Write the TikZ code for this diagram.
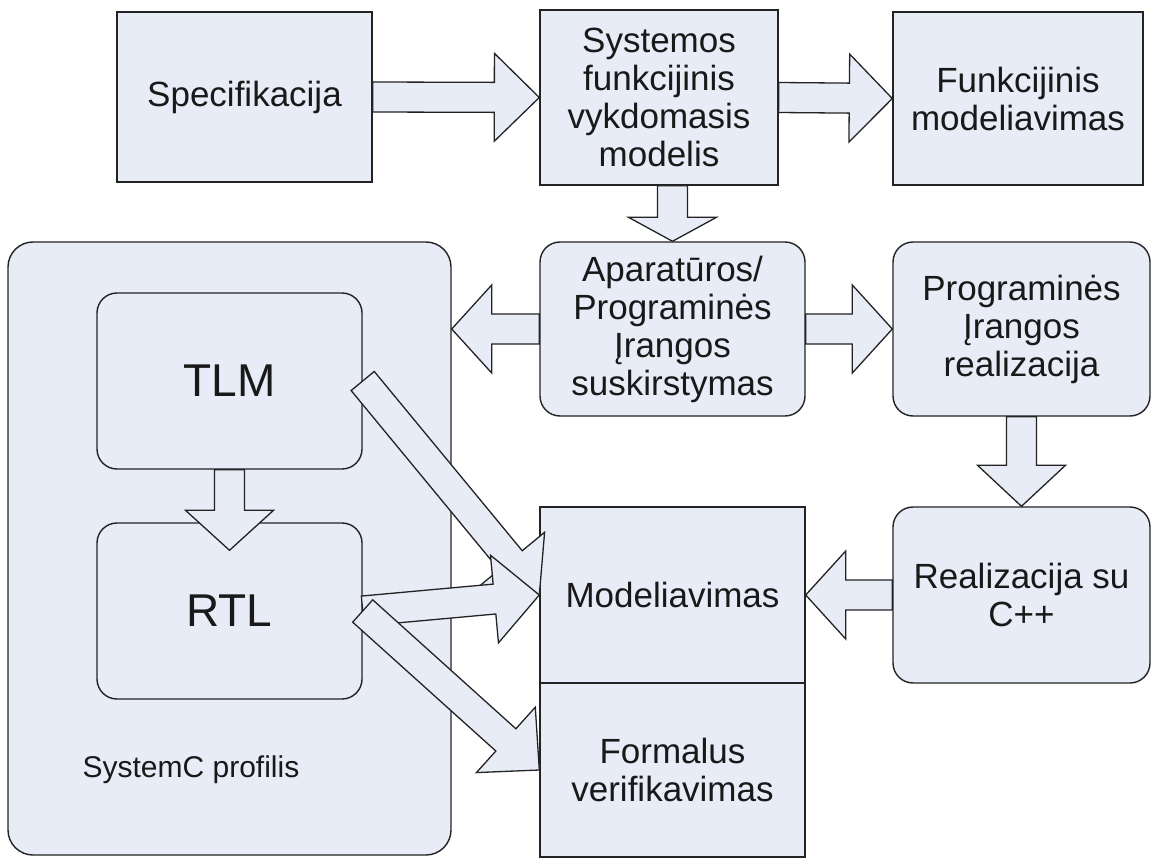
\documentclass[tikz,border=0pt]{standalone}
\usepackage{fontspec}
\setmainfont{Liberation Sans}
\usetikzlibrary{calc}

\definecolor{boxfill}{RGB}{232,236,246}
\definecolor{edge}{RGB}{35,35,35}
\definecolor{txt}{RGB}{25,25,25}

\tikzset{
  base/.style={draw=edge, fill=boxfill, line width=1.4pt, inner sep=0pt,
    align=center, text=txt, font=\fontsize{35}{38}\selectfont},
  sqbox/.style={base},
  rbox/.style={base, rounded corners=20pt},
  bigbox/.style={base, rounded corners=25pt},
  barrow/.style={draw=edge, fill=boxfill, line width=1.3pt, line join=miter},
}

% block arrow from #2 to #3, head length #1 (pt)
\newcommand{\blockarrow}[3][45]{%
  \coordinate (ba-h) at ($(#3)!#1pt!(#2)$);
  \draw[barrow] ($(#2)!15pt!90:(#3)$) -- ($(ba-h)!15pt!90:(#3)$)
    -- ($(ba-h)!44pt!90:(#3)$) -- (#3) -- ($(ba-h)!44pt!-90:(#3)$)
    -- ($(ba-h)!15pt!-90:(#3)$) -- ($(#2)!15pt!-90:(#3)$) -- cycle;}

\begin{document}
\begin{tikzpicture}[x=1pt, y=-1pt]
\useasboundingbox (0,0) rectangle (1151,858);

% top row
\node[sqbox, minimum width=255pt, minimum height=170pt] (spec) at (244.5,97) {Specifikacija};
\node[sqbox, minimum width=238pt, minimum height=175pt] (sys) at (659,97.5)
  {Systemos\\funkcijinis\\vykdomasis\\modelis};
\node[sqbox, minimum width=250pt, minimum height=173pt] (funk) at (1018,98.5)
  {Funkcijinis\\modeliavimas};

% SystemC profile container
\node[bigbox, minimum width=443pt, minimum height=613pt] (sysc) at (229.5,548.5) {};
\node[rbox, minimum width=265pt, minimum height=176pt, font=\fontsize{46}{50}\selectfont] (tlm) at (229.5,381) {TLM};
\node[rbox, minimum width=265pt, minimum height=176pt, font=\fontsize{46}{50}\selectfont] (rtl) at (229.5,611) {RTL};
\node[text=txt, font=\fontsize{30}{34}\selectfont] (scl) at (191,770) {SystemC profilis};

% middle column
\node[rbox, minimum width=265pt, minimum height=174pt] (apar) at (672.5,329)
  {Aparatūros/\\Programinės\\Įrangos\\suskirstymas};
\node[sqbox, minimum width=265pt, minimum height=176pt] (model) at (672.5,595) {Modeliavimas};
\node[sqbox, minimum width=265pt, minimum height=174pt] (formal) at (672.5,770)
  {Formalus\\verifikavimas};

% right column
\node[rbox, minimum width=257pt, minimum height=174pt] (prog) at (1021.5,329)
  {Programinės\\Įrangos\\realizacija};
\node[rbox, minimum width=257pt, minimum height=176pt] (cpp) at (1021.5,595)
  {Realizacija su\\C++};

% arrow end points
\coordinate (sysc-in) at (apar.west -| sysc.east);
\coordinate (sys-out) at (apar.north |- sys.south);
\coordinate (rtl-in) at ([yshift=-28pt]rtl.north);

% block arrows
\blockarrow{spec.east}{sys.west}
\blockarrow[43]{sys.east}{funk.west}
\blockarrow[24]{sys-out}{apar.north}
\blockarrow[40]{apar.west}{sysc-in}
\blockarrow[40]{apar.east}{prog.west}
\blockarrow[41]{prog.south}{cpp.north}
\blockarrow[40]{cpp.west}{model.east}
\blockarrow[40]{tlm.south}{rtl-in}
\blockarrow{tlm.east}{model.west}
\blockarrow{rtl.east}{model.west}
\blockarrow{rtl.east}{formal.west}
\end{tikzpicture}
\end{document}
